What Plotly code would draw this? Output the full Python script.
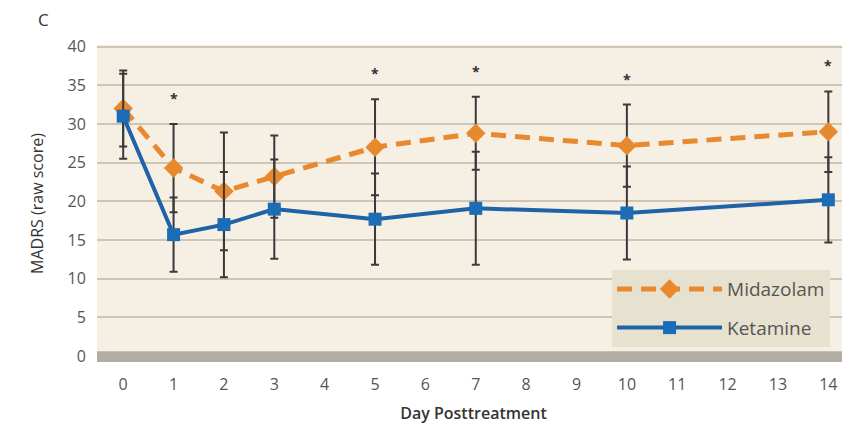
import plotly.graph_objects as go

days = [0, 1, 2, 3, 5, 7, 10, 14]
midazolam = [32.0, 24.3, 21.3, 23.2, 27.0, 28.8, 27.2, 29.0]
midazolam_err = [4.9, 5.7, 7.6, 5.3, 6.2, 4.7, 5.3, 5.2]
ketamine = [31.0, 15.7, 17.0, 19.0, 17.7, 19.1, 18.5, 20.2]
ketamine_err = [5.5, 4.8, 6.8, 6.4, 5.9, 7.3, 6.0, 5.5]
sig_days = [1, 5, 7, 10, 14]
x_ticks = list(range(0, 15))
y_ticks = [0, 5, 10, 15, 20, 25, 30, 35, 40]

ORANGE = "#e8892f"
BLUE = "#1f62a8"
ERR = "#3a3a3a"
FONT = "Open Sans"

fig = go.Figure()
fig.add_trace(go.Scatter(
    x=days, y=midazolam, name="Midazolam", mode="lines+markers", legendgroup="m",
    line=dict(color=ORANGE, width=5, dash="15px,9px"),
    marker=dict(symbol="diamond", size=15, color=ORANGE),
    error_y=dict(type="data", array=midazolam_err, color=ERR, thickness=2, width=4),
))
fig.add_trace(go.Scatter(
    x=days, y=ketamine, name="Ketamine", mode="lines+markers", legendgroup="k",
    line=dict(color=BLUE, width=4),
    marker=dict(symbol="square", size=13, color="#1d6cb6"),
    error_y=dict(type="data", array=ketamine_err, color=ERR, thickness=2, width=4),
))

# significance asterisks above the tallest error bar
for d in sig_days:
    i = days.index(d)
    top = max(midazolam[i] + midazolam_err[i], ketamine[i] + ketamine_err[i])
    fig.add_annotation(x=d, y=top + 3.3, text="<b>*</b>", showarrow=False,
                       font=dict(family=FONT, size=14, color="#333"), yanchor="middle")

# thick grey baseline at zero
fig.add_shape(type="rect", xref="paper", x0=0, x1=1, yref="y", y0=-0.75, y1=0.65,
              fillcolor="#b3aea5", line=dict(width=0), layer="above")

fig.add_annotation(xref="paper", yref="paper", x=-0.081, y=1.123, text="C",
                   showarrow=False, font=dict(family=FONT, size=17, color="#333"))

# the page body has an 8px margin, so the figure is sized/offset to compensate
fig.update_layout(
    width=842, height=437,
    margin=dict(l=89, r=0, t=37, b=83),
    paper_bgcolor="white",
    plot_bgcolor="#f6f0e4",
    font=dict(family=FONT, color="#555"),
    showlegend=True,
    legend=dict(x=0.684, y=0.290, xanchor="left", yanchor="top",
                bgcolor="#e7e1cf", font=dict(family=FONT, size=19, color="#555"),
                itemwidth=105, traceorder="grouped", tracegroupgap=11, borderwidth=0),
    xaxis=dict(range=[-0.52, 14.43], tickmode="array", tickvals=x_ticks,
               showgrid=False, zeroline=False, ticks="outside", ticklen=8,
               tickcolor="rgba(0,0,0,0)", tickfont=dict(size=16, color="#555"),
               automargin=False,
               title=dict(text="Day Posttreatment", standoff=13,
                          font=dict(family=FONT, size=16, color="#333", weight=600))),
    yaxis=dict(range=[-0.75, 40.2], tickmode="array", tickvals=y_ticks,
               showgrid=True, gridcolor="#cec5b4", gridwidth=2, zeroline=False,
               ticks="outside", ticklen=7, tickcolor="rgba(0,0,0,0)",
               tickfont=dict(size=16, color="#555"), automargin=False,
               title=dict(text="MADRS (raw score)", standoff=19,
                          font=dict(family=FONT, size=16, color="#333"))),
)

fig.write_html("out.html")
